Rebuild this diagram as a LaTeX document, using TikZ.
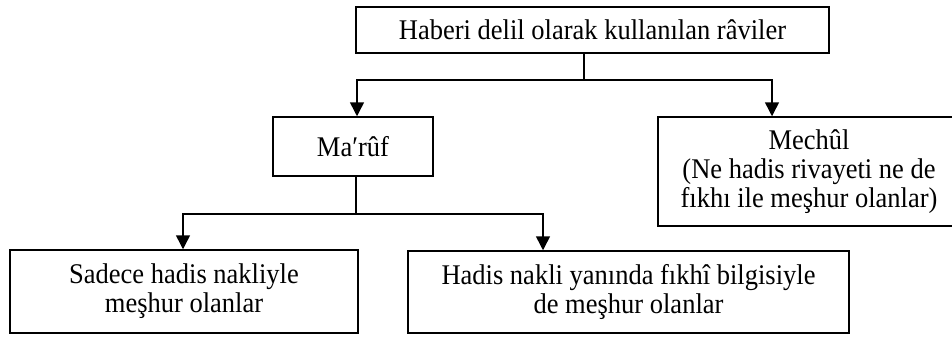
\documentclass[tikz,border=0pt]{standalone}
\usepackage{fontspec}
\setmainfont{Liberation Serif}[FakeStretch=0.93]
\usetikzlibrary{arrows.meta}
\begin{document}
\begin{tikzpicture}[x=1pt,y=-1pt,
  box/.style={draw=black, line width=1.5pt, rectangle, inner sep=0pt, align=center,
    font=\fontsize{28.5}{29}\selectfont},
  conn/.style={line width=1.5pt},
  arr/.style={line width=1.5pt, -{Triangle[width=14pt,length=14pt]}}]
\useasboundingbox (0,0) rectangle (952,338);
\fill[white] (0,0) rectangle (952,338);
% boxes
\node[box, minimum width=473pt, minimum height=46pt] (top) at (592.5,30) {Haberi delil olarak kullanılan râviler};
\node[box, minimum width=160pt, minimum height=59pt] (maruf) at (353,146.5) {Ma′rûf};
\node[box, minimum width=302pt, minimum height=109pt] (mechul) at (809,171.5) {Mechûl\\(Ne hadis rivayeti ne de\\fıkhı ile meşhur olanlar)};
\node[box, minimum width=348pt, minimum height=83pt] (left) at (184,291.5) {Sadece hadis nakliyle\\meşhur olanlar};
\node[box, minimum width=441pt, minimum height=82pt] (right) at (628.5,292) {Hadis nakli yanında fıkhî bilgisiyle\\de meşhur olanlar};
% junctions
\coordinate (j1) at (584,80);
\coordinate (a1) at (357,80);
\coordinate (a2) at (772,80);
\coordinate (j2) at (356,214);
\coordinate (b1) at (183,214);
\coordinate (b2) at (543,214);
% connectors
\draw[conn] (j1 |- top.south) -- (j1);
\draw[arr] (j1) -- (a1) -- (a1 |- maruf.north);
\draw[arr] (j1) -- (a2) -- (a2 |- mechul.north);
\draw[conn] (j2 |- maruf.south) -- (j2);
\draw[arr] (j2) -- (b1) -- (b1 |- left.north);
\draw[arr] (j2) -- (b2) -- (b2 |- right.north);
\end{tikzpicture}
\end{document}
